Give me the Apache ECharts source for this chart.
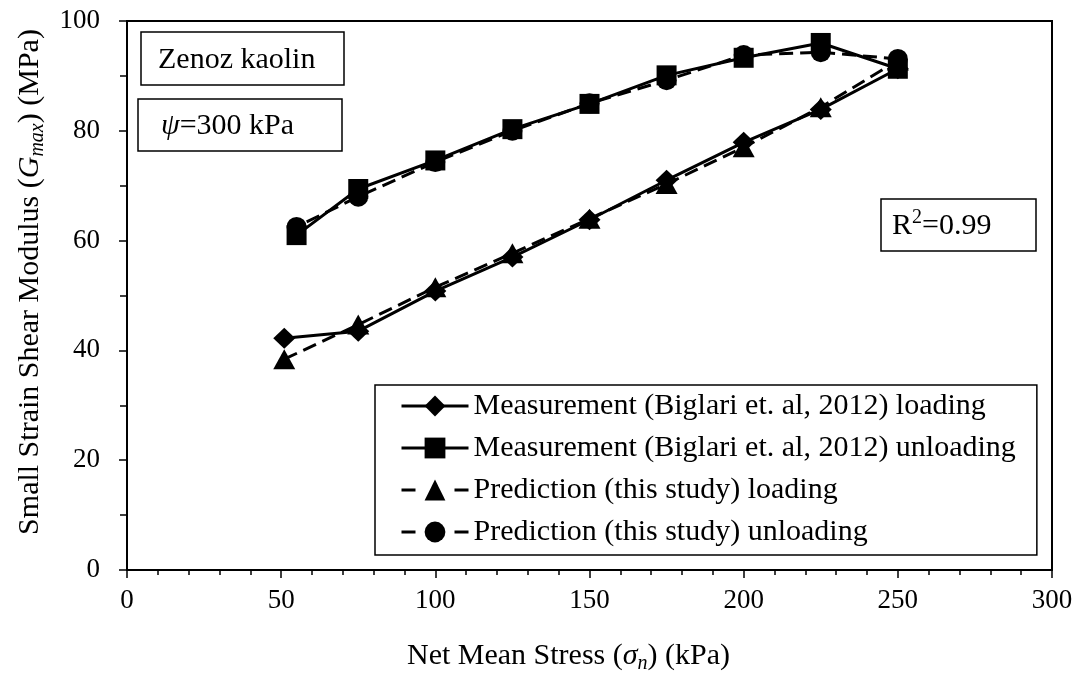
<!DOCTYPE html>
<html>
<head>
<meta charset="utf-8">
<script src="https://cdn.jsdelivr.net/npm/echarts@6/dist/echarts.min.js"></script>
<style>
  html, body { margin: 0; padding: 0; background: #fff; }
  #chart { width: 1081px; height: 679px; }
</style>
</head>
<body>
<div id="chart"></div>
<script>
// Net mean stress paths (kPa)
const stressLoading = [51, 75, 100, 125, 150, 175, 200, 225, 250];
const stressUnloading = [250, 225, 200, 175, 150, 125, 100, 75, 55];

// Small strain shear modulus Gmax (MPa)
const measuredLoading = [42.2, 43.5, 50.8, 57.0, 63.8, 71.0, 77.9, 83.9, 91.3];
const measuredUnloading = [91.3, 96.0, 93.3, 90.1, 84.9, 80.3, 74.6, 69.4, 61.0];
const predictedLoading = [38.4, 44.7, 51.5, 57.7, 64.0, 70.3, 77.0, 84.3, 92.8];
const predictedUnloading = [93.1, 94.3, 93.8, 89.2, 85.0, 80.0, 74.3, 68.0, 62.5];

const seriesNames = [
  'Measurement (Biglari et. al, 2012) loading',
  'Measurement (Biglari et. al, 2012) unloading',
  'Prediction (this study) loading',
  'Prediction (this study) unloading'
];

// Axis ticks
const xTicks = [0, 50, 100, 150, 200, 250, 300];
const yTicks = [0, 20, 40, 60, 80, 100];

const FONT = '"Liberation Serif", "Times New Roman", serif';
const INK = '#000';

const pairs = (xs, ys) => xs.map((x, i) => [x, ys[i]]);

const richTitle = {
  t: { fontFamily: FONT, fontSize: 30, color: INK, lineHeight: 36 },
  i: { fontFamily: FONT, fontSize: 30, color: INK, lineHeight: 36, fontStyle: 'italic' },
  s: { fontFamily: FONT, fontSize: 20, color: INK, lineHeight: 20, fontStyle: 'italic', verticalAlign: 'bottom' }
};

function curve(name, xs, ys, symbol, size, dashed) {
  return {
    name: name,
    type: 'line',
    data: pairs(xs, ys),
    symbol: symbol,
    symbolSize: size,
    showAllSymbol: true,
    lineStyle: { color: INK, width: 3, type: dashed ? [14, 7] : 'solid' },
    itemStyle: { color: INK },
    emphasis: { disabled: true },
    z: 3
  };
}

const chart = echarts.init(document.getElementById('chart'), null, { renderer: 'canvas' });

chart.setOption({
  animation: false,
  backgroundColor: '#fff',
  grid: {
    left: 127, right: 29, top: 21, bottom: 105,
    show: true, borderColor: INK, borderWidth: 2, backgroundColor: 'transparent'
  },
  xAxis: {
    type: 'value',
    min: xTicks[0], max: xTicks[xTicks.length - 1], interval: xTicks[1] - xTicks[0],
    axisLine: { show: true, onZero: false, lineStyle: { color: INK, width: 2 } },
    axisTick: { show: true, length: 8, lineStyle: { color: INK, width: 1.5 } },
    minorTick: { show: true, splitNumber: 5, length: 5, lineStyle: { color: INK, width: 1.5 } },
    splitLine: { show: false },
    axisLabel: { fontFamily: FONT, fontSize: 27, color: INK, margin: 17 },
    name: '{t|Net Mean Stress (}{i|σ}{s|n}{t|) (kPa)}',
    nameLocation: 'middle',
    nameGap: 68,
    nameTextStyle: { rich: richTitle, padding: [0, 42, 0, 0] }
  },
  yAxis: {
    type: 'value',
    min: yTicks[0], max: yTicks[yTicks.length - 1], interval: yTicks[1] - yTicks[0],
    axisLine: { show: true, onZero: false, lineStyle: { color: INK, width: 2 } },
    axisTick: { show: true, length: 8, lineStyle: { color: INK, width: 1.5 } },
    minorTick: { show: true, splitNumber: 2, length: 7, lineStyle: { color: INK, width: 1.5 } },
    splitLine: { show: false },
    axisLabel: { fontFamily: FONT, fontSize: 27, color: INK, margin: 27 },
    name: '{t|Small Strain Shear Modulus (}{i|G}{s|max}{t|) (MPa)}',
    nameLocation: 'middle',
    nameRotate: 90,
    nameGap: 79,
    nameTextStyle: { rich: richTitle, padding: [0, 0, 0, 27] }
  },
  legend: {
    orient: 'vertical',
    left: 375, top: 385,
    padding: [6, 21, 8, 25],
    itemGap: 12,
    itemWidth: 67,
    itemHeight: 26,
    borderColor: INK,
    borderWidth: 1.5,
    backgroundColor: '#fff',
    selectedMode: false,
    textStyle: { fontFamily: FONT, fontSize: 30, color: INK, lineHeight: 30 },
    data: [
      { name: seriesNames[0], lineStyle: { width: 3 } },
      { name: seriesNames[1], lineStyle: { width: 3 } },
      { name: seriesNames[2], lineStyle: { width: 3, type: [14, 39] } },
      { name: seriesNames[3], lineStyle: { width: 3, type: [14, 39] } }
    ]
  },
  graphic: [
    { type: 'rect', shape: { x: 141, y: 32, width: 203, height: 53 },
      style: { fill: '#fff', stroke: INK, lineWidth: 1.5 }, z: 10 },
    { type: 'text', x: 158, y: 60,
      style: { text: 'Zenoz kaolin', fontFamily: FONT, fontSize: 30, fill: INK, verticalAlign: 'middle' }, z: 11 },
    { type: 'rect', shape: { x: 138, y: 99, width: 204, height: 52 },
      style: { fill: '#fff', stroke: INK, lineWidth: 1.5 }, z: 10 },
    { type: 'text', x: 161, y: 126,
      style: {
        text: '{i|ψ}{t|=300 kPa}', verticalAlign: 'middle',
        rich: {
          t: { fontFamily: FONT, fontSize: 30, fill: INK },
          i: { fontFamily: FONT, fontSize: 30, fill: INK, fontStyle: 'italic' }
        }
      }, z: 11 },
    { type: 'rect', shape: { x: 881, y: 199, width: 155, height: 52 },
      style: { fill: '#fff', stroke: INK, lineWidth: 1.5 }, z: 10 },
    { type: 'text', x: 892, y: 226,
      style: {
        text: '{t|R}{sup|2}{t|=0.99}', verticalAlign: 'middle',
        rich: {
          t: { fontFamily: FONT, fontSize: 30, fill: INK, lineHeight: 36 },
          sup: { fontFamily: FONT, fontSize: 20, fill: INK, lineHeight: 20, verticalAlign: 'top' }
        }
      }, z: 11 }
  ],
  series: [
    curve(seriesNames[0], stressLoading, measuredLoading, 'diamond', [22, 21], false),
    curve(seriesNames[1], stressUnloading, measuredUnloading, 'rect', [20, 20], false),
    curve(seriesNames[2], stressLoading, predictedLoading, 'triangle', [22, 20], true),
    curve(seriesNames[3], stressUnloading, predictedUnloading, 'circle', 20, true)
  ]
});
</script>
</body>
</html>
